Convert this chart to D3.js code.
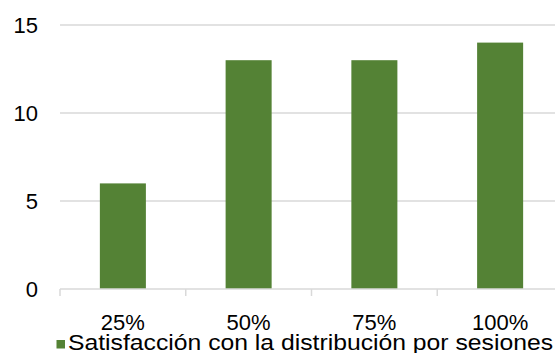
<!DOCTYPE html>
<html><head><meta charset="utf-8">
<script src="https://cdn.jsdelivr.net/npm/d3@7"></script>
<style>body{margin:0;background:#fff}svg{display:block}text{font-family:"Liberation Sans",Arial,sans-serif;fill:#000}</style>
</head><body><svg id="c" width="555" height="353"></svg>
<script>
const categories = ["25%", "50%", "75%", "100%"];
const values = [6, 13, 13, 14];
const yTicks = [0, 5, 10, 15];
const seriesName = "Satisfacción con la distribución por sesiones";

const svg = d3.select("#c");
const x = d3.scaleBand().domain(categories).range([60, 563]).padding(0);
const y = d3.scaleLinear().domain([0, 15]).range([289, 25]);

// gridlines
svg.append("g").selectAll("line").data(yTicks.filter(d => d > 0)).join("line")
  .attr("x1", 60).attr("x2", 555).attr("y1", d => y(d)).attr("y2", d => y(d))
  .attr("stroke", "#d9d9d9").attr("stroke-width", 1.5);

// y labels
svg.append("g").selectAll("text").data(yTicks).join("text")
  .attr("x", 38).attr("y", d => y(d) + 8).attr("text-anchor", "end")
  .attr("font-size", 22).text(d => d);

// bars
const bw = x.bandwidth() * 0.366;
svg.append("g").selectAll("rect").data(values).join("rect")
  .attr("x", (d, i) => x(categories[i]) + x.bandwidth() / 2 - bw / 2)
  .attr("width", bw)
  .attr("y", d => y(d)).attr("height", d => y(0) - y(d))
  .attr("fill", "#548235");

// x axis line and ticks
svg.append("line").attr("x1", 60).attr("x2", 555).attr("y1", y(0)).attr("y2", y(0))
  .attr("stroke", "#d9d9d9").attr("stroke-width", 1.5);
const tickPos = categories.map(c => x(c)).concat([x.range()[1]]);
svg.append("g").selectAll("line").data(tickPos).join("line")
  .attr("x1", d => d).attr("x2", d => d).attr("y1", y(0)).attr("y2", y(0) + 7)
  .attr("stroke", "#d9d9d9").attr("stroke-width", 1.5);

// x labels
svg.append("g").selectAll("text").data(categories).join("text")
  .attr("x", d => x(d) + x.bandwidth() / 2).attr("y", 329.5)
  .attr("text-anchor", "middle").attr("font-size", 22).text(d => d);

// legend
svg.append("rect").attr("x", 56.5).attr("y", 340).attr("width", 8.5).attr("height", 8.5).attr("fill", "#548235");
svg.append("text").attr("x", 68).attr("y", 350).attr("font-size", 21.5)
  .attr("textLength", 485).attr("lengthAdjust", "spacingAndGlyphs").text(seriesName);
</script></body></html>
